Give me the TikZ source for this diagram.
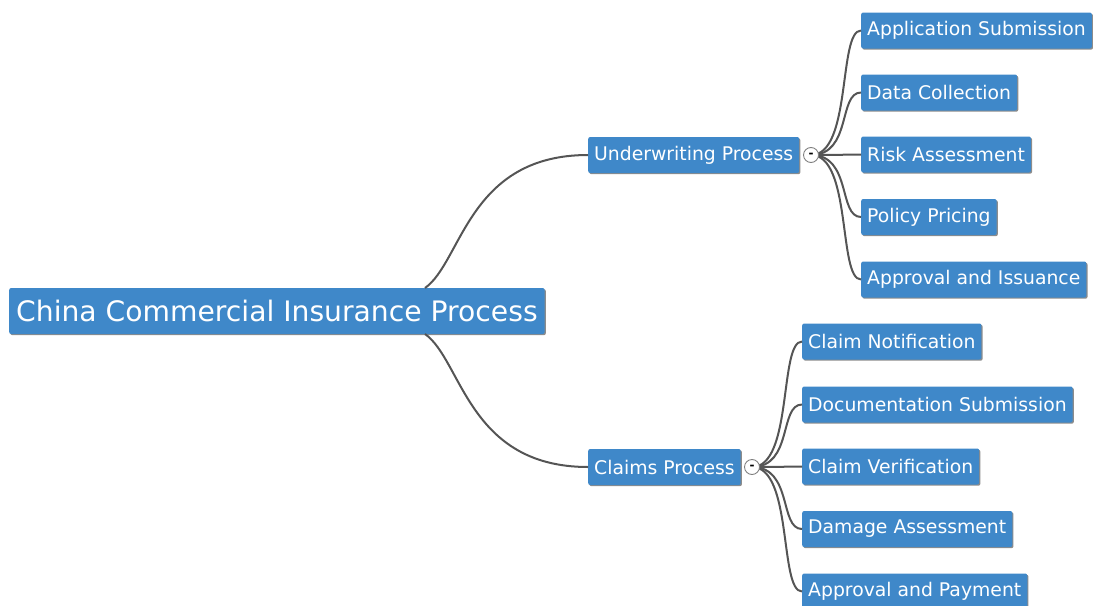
\documentclass[tikz,border=0pt]{standalone}
\usepackage{fontspec}
\setmainfont{DejaVu Sans}
\usetikzlibrary{shadows}
\definecolor{boxblue}{HTML}{3F88C9}
\definecolor{linegray}{HTML}{555555}
\tikzset{
  topic/.style={fill=boxblue, text=white, rounded corners=2pt, anchor=west,
    inner xsep=6pt, inner ysep=0pt, minimum height=36pt,
    font=\fontsize{18.8}{20}\selectfont,
    general shadow={fill=black!45, shadow xshift=1.2pt, shadow yshift=-1.2pt}},
  roottopic/.style={topic, minimum height=46pt, inner xsep=7pt, font=\fontsize{28.2}{30}\selectfont},
  toggle/.style={circle, draw=gray, fill=white, line width=0.9pt, minimum size=15pt, inner sep=0pt,
    font=\fontsize{12}{12}\selectfont\bfseries},
  conn/.style={draw=linegray, line width=2pt}
}
\begin{document}
\begin{tikzpicture}[x=1pt,y=-1pt]
\useasboundingbox (0,0) rectangle (1094,605);
% nodes
\node[roottopic] (root) at (9,311) {China Commercial Insurance Process};
\node[topic] (uw) at (588,155) {Underwriting Process};
\node[topic] (cp) at (588,467) {Claims Process};
\node[topic] (as) at (861,30.5) {Application Submission};
\node[topic] (dc) at (861,92.5) {Data Collection};
\node[topic] (ra) at (861,154.5) {Risk Assessment};
\node[topic] (pp) at (861,217) {Policy Pricing};
\node[topic] (ai) at (861,279.5) {Approval and Issuance};
\node[topic] (cn) at (802,341.5) {Claim Notification};
\node[topic] (ds) at (802,404.5) {Documentation Submission};
\node[topic] (cv) at (802,466.5) {Claim Verification};
\node[topic] (da) at (802,529) {Damage Assessment};
\node[topic] (ap) at (802,591.5) {Approval and Payment};
\coordinate (tuwc) at (811,155);
\coordinate (tcpc) at (752,467);
\coordinate (rtop) at (425,288);
\coordinate (rbot) at (425,334);
% connectors
\draw[conn] (rtop) .. controls (462,262) and (468,155) .. (uw.west);
\draw[conn] (rbot) .. controls (462,360) and (468,467) .. (cp.west);
\foreach \c in {as,dc,ra,pp,ai}{
  \draw[conn] (tuwc) .. controls (852,155) and (838,0|-\c.west) .. (\c.west);
}
\foreach \c in {cn,ds,cv,da,ap}{
  \draw[conn] (tcpc) .. controls (793,467) and (779,0|-\c.west) .. (\c.west);
}
% toggles on top
\node[toggle] (tuw) at (tuwc) {-};
\node[toggle] (tcp) at (tcpc) {-};
\end{tikzpicture}
\end{document}
